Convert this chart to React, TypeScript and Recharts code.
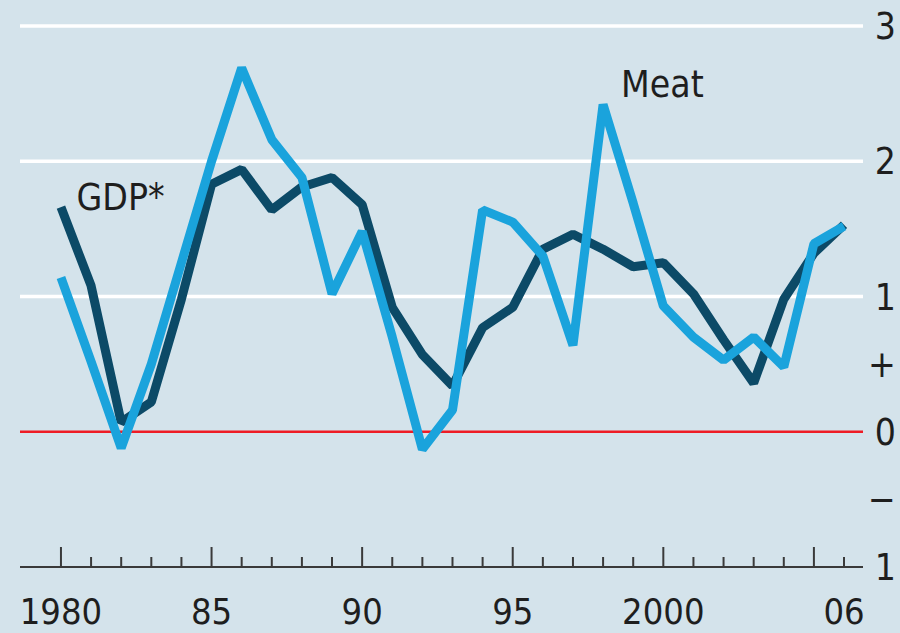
import React from 'react';
import { LineChart, Line, XAxis, YAxis, ReferenceLine, ReferenceDot } from 'recharts';

const years = [1980, 1981, 1982, 1983, 1984, 1985, 1986, 1987, 1988, 1989, 1990, 1991, 1992, 1993, 1994, 1995, 1996, 1997, 1998, 1999, 2000, 2001, 2002, 2003, 2004, 2005, 2006];
const gdp = [1.66, 1.08, 0.07, 0.22, 0.98, 1.83, 1.94, 1.64, 1.81, 1.88, 1.68, 0.92, 0.57, 0.34, 0.77, 0.92, 1.35, 1.46, 1.35, 1.22, 1.25, 1.02, 0.68, 0.36, 0.98, 1.32, 1.53];
const meat = [1.14, 0.52, -0.12, 0.5, 1.25, 2.0, 2.69, 2.16, 1.88, 1.02, 1.48, 0.7, -0.13, 0.16, 1.64, 1.55, 1.3, 0.64, 2.42, 1.69, 0.93, 0.7, 0.53, 0.7, 0.48, 1.39, 1.52];

const xLabelYears = [1980, 1985, 1990, 1995, 2000, 2006];
const xLabelTexts = ['1980', '85', '90', '95', '2000', '06'];
const yTicks = [-1, -0.5, 0, 0.5, 1, 2, 3];
const yTickTexts = ['1', '\u2212', '0', '+', '1', '2', '3'];
const gridValues = [1, 2, 3];

const data = years.map((year, i) => ({ year, gdp: gdp[i], meat: meat[i] }));

const FONT = '"DejaVu Sans Condensed", "Liberation Sans Narrow", "DejaVu Sans", sans-serif';
const TEXT_COLOR = '#1e1e1e';

const XTick = (props: any) => {
  const { x, y, payload } = props;
  const v = payload.value as number;
  const major = v % 5 === 0;
  const idx = xLabelYears.indexOf(v);
  return (
    <g>
      <line x1={x} x2={x} y1={y} y2={y - (major ? 20 : 10)} stroke="#3a3a3a" strokeWidth={2} />
      {idx >= 0 && (
        <text x={x} y={y + 57} textAnchor="middle" fontSize={36} fontFamily={FONT} fill={TEXT_COLOR}>
          {xLabelTexts[idx]}
        </text>
      )}
    </g>
  );
};

const YTick = (props: any) => {
  const { x, y, payload } = props;
  const idx = yTicks.indexOf(payload.value);
  return (
    <text x={x + 33} y={y + 13} textAnchor="end" fontSize={37} fontFamily={FONT} fill={TEXT_COLOR}>
      {idx >= 0 ? yTickTexts[idx] : ''}
    </text>
  );
};

export default function App() {
  return (
    <div style={{ position: 'fixed', left: 0, top: 0, width: 900, height: 633, background: '#d4e3eb' }}>
      <LineChart width={900} height={633} data={data} margin={{ top: 26, right: 0, bottom: 0, left: 20 }}>
        <XAxis
          dataKey="year"
          type="number"
          domain={[1978.64, 2006.63]}
          ticks={years}
          interval={0}
          height={66}
          tickSize={0}
          tickMargin={0}
          tickLine={false}
          axisLine={{ stroke: '#3a3a3a', strokeWidth: 2 }}
          tick={<XTick />}
        />
        <YAxis
          orientation="right"
          type="number"
          domain={[-1, 3]}
          ticks={yTicks}
          interval={0}
          width={37}
          tickSize={0}
          tickMargin={0}
          tickLine={false}
          axisLine={false}
          tick={<YTick />}
        />
        {gridValues.map((v) => (
          <ReferenceLine key={v} y={v} stroke="#ffffff" strokeWidth={3.5} />
        ))}
        <ReferenceLine y={0} stroke="#ee1c25" strokeWidth={2.5} />
        <Line dataKey="gdp" stroke="#0c4a67" strokeWidth={9} dot={false} activeDot={false} isAnimationActive={false} strokeLinejoin="bevel" />
        <Line dataKey="meat" stroke="#1aa3dc" strokeWidth={9} dot={false} activeDot={false} isAnimationActive={false} strokeLinejoin="bevel" />
        <ReferenceDot
          x={1981.98}
          y={1.74}
          r={0}
          fill="none"
          stroke="none"
          label={{ value: 'GDP*', position: 'center', fontSize: 37, fontFamily: FONT, fill: TEXT_COLOR }}
        />
        <ReferenceDot
          x={1999.97}
          y={2.57}
          r={0}
          fill="none"
          stroke="none"
          label={{ value: 'Meat', position: 'center', fontSize: 37, fontFamily: FONT, fill: TEXT_COLOR }}
        />
      </LineChart>
    </div>
  );
}
